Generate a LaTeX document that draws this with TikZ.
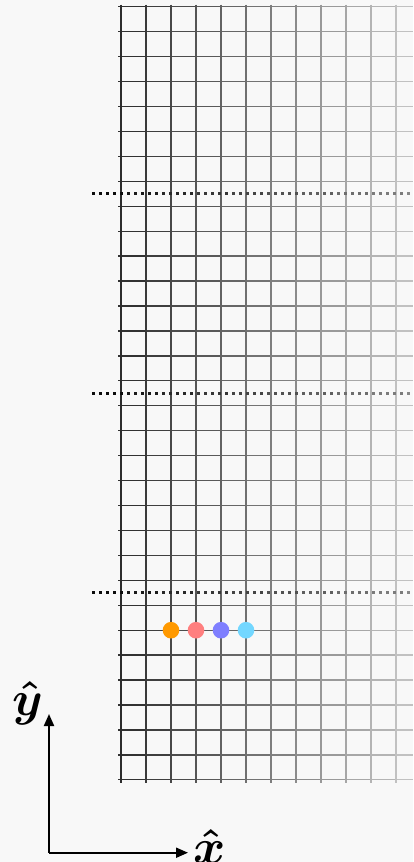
\documentclass[tikz,border=0pt]{standalone}
\usepackage{amsmath,bm}
\usetikzlibrary{arrows.meta}
\definecolor{bg}{RGB}{248,248,248}
\definecolor{dotA}{RGB}{255,153,0}
\definecolor{dotB}{RGB}{255,127,127}
\definecolor{dotC}{RGB}{127,127,255}
\definecolor{dotD}{RGB}{115,215,255}
\tikzset{
  gridline/.style={line width=1.3pt},
  sepline/.style={line width=3pt, dash pattern=on 3pt off 4pt},
  ball/.style={circle, inner sep=0pt, minimum size=16.6pt},
  axis/.style={line width=2pt, -{Stealth[length=12pt,width=10pt,inset=0pt]}},
  axlabel/.style={inner sep=0pt, font=\Large, scale=3.4, transform shape}
}
\begin{document}
\begin{tikzpicture}[x=1pt,y=-1pt]
\fill[bg] (0,0) rectangle (413,862);
\useasboundingbox (0,0) rectangle (413,862);
% horizontal grid lines (fading to the right)
\foreach \j in {0,...,31}{
  \pgfmathsetmacro\yy{6.7+24.94*\j}
  \foreach \s in {0,...,11}{
    \pgfmathsetmacro\xa{\s==0 ? 118 : 121+25*\s}
    \pgfmathsetmacro\xb{\s==11 ? 413 : 121+25*(\s+1)}
    \pgfmathsetmacro\lv{80-58*\s/11}
    \draw[gridline, draw=black!\lv!bg] (\xa,\yy) -- (\xb,\yy);
  }
}
% vertical grid lines
\foreach \i in {0,...,11}{
  \pgfmathsetmacro\xx{121+25*\i}
  \pgfmathsetmacro\lv{82-60*\i/11}
  \draw[gridline, draw=black!\lv!bg] (\xx,4.5) -- (\xx,782.5);
}
% dotted separators
\foreach \yy in {193.8,393.3,592.8}{
  \foreach \s in {0,...,9}{
    \pgfmathsetmacro\xa{92+35*\s}
    \pgfmathsetmacro\xb{min(92+35*(\s+1),413)}
    \pgfmathsetmacro\lv{95-50*\s/9}
    \draw[sepline, draw=black!\lv!bg] (\xa,\yy) -- (\xb,\yy);
  }
}
% dots
\node[ball, fill=dotA] (d1) at (171,630.2) {};
\node[ball, fill=dotB] (d2) at (196,630.2) {};
\node[ball, fill=dotC] (d3) at (221,630.2) {};
\node[ball, fill=dotD] (d4) at (246,630.2) {};
% axes
\coordinate (o) at (49,852.7);
\coordinate (ytip) at (49,714);
\coordinate (xtip) at (188,852.7);
\draw[axis] (o) -- (ytip);
\draw[axis] (o) -- (xtip);
\node[axlabel] (ylab) at (27.5,703) {$\bm{\hat{y}}$};
\node[axlabel] (xlab) at (209.5,846) {$\bm{\hat{x}}$};
\end{tikzpicture}
\end{document}
